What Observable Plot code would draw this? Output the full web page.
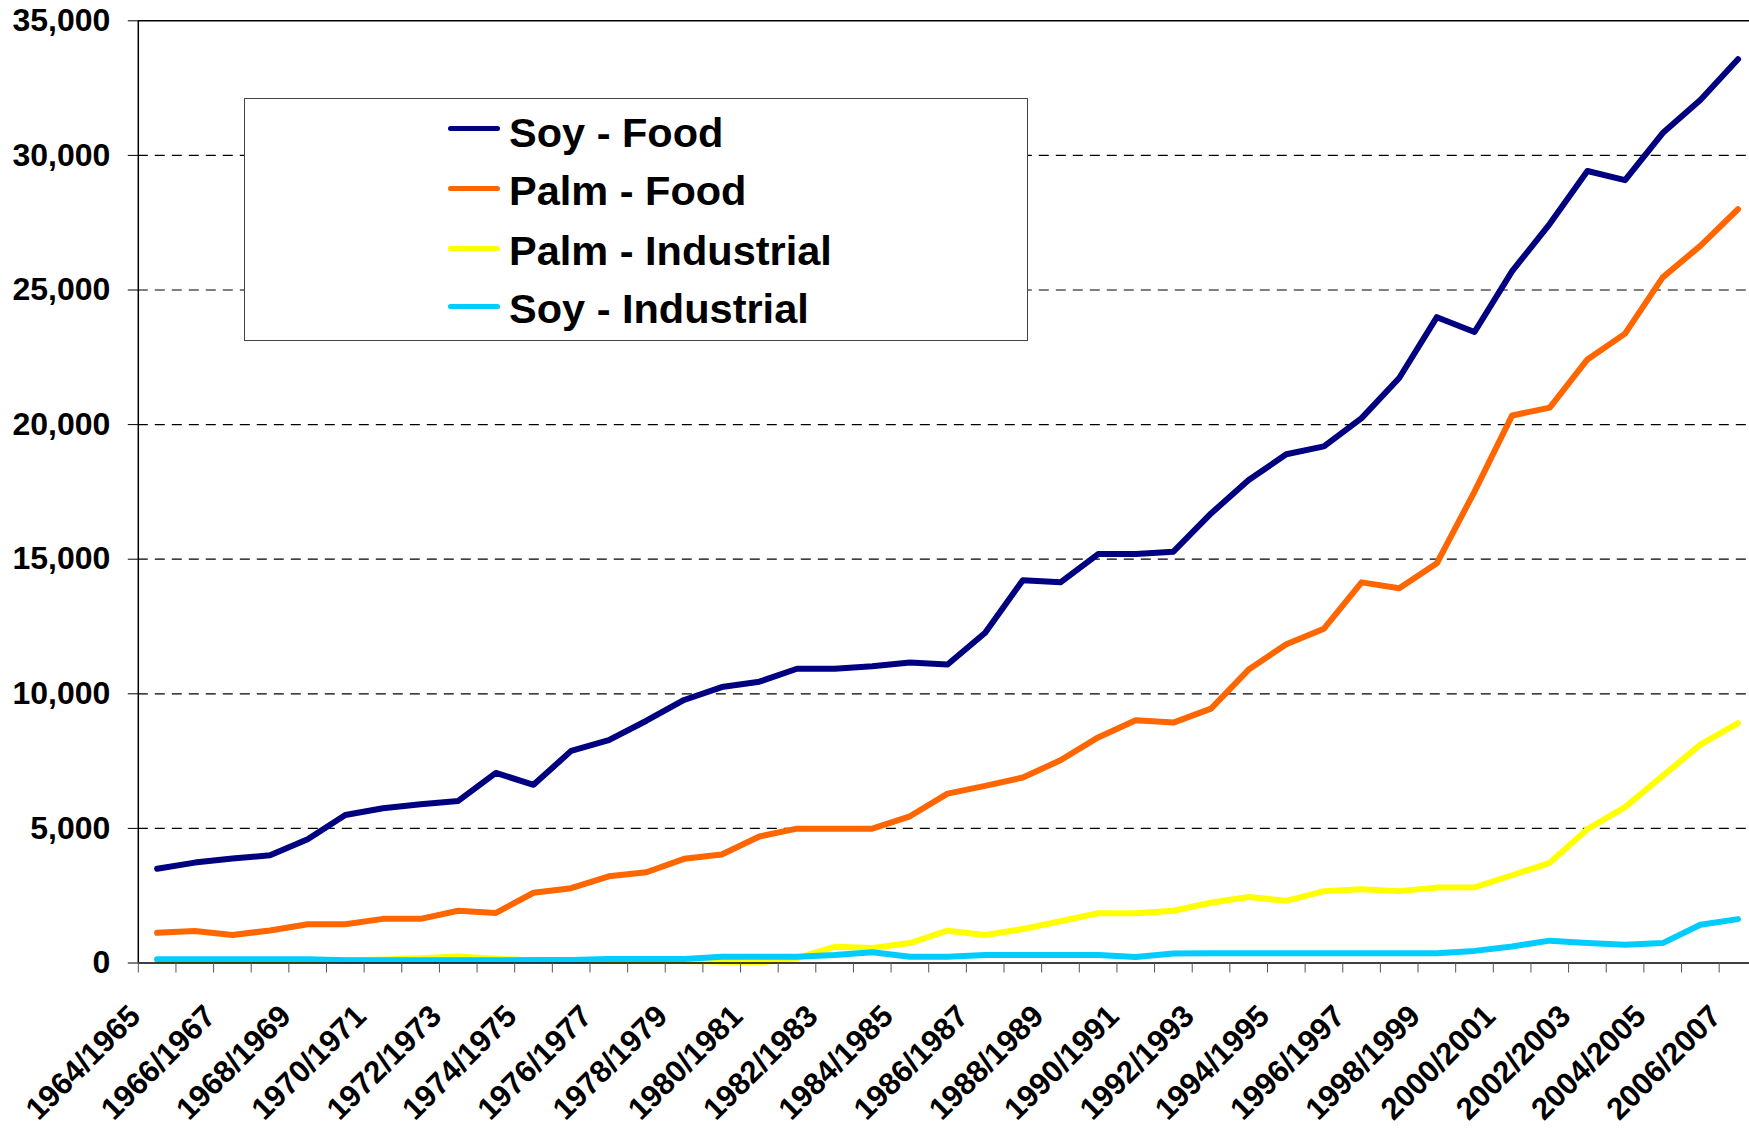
<!DOCTYPE html>
<html>
<head>
<meta charset="utf-8">
<script src="https://cdn.jsdelivr.net/npm/d3@7"></script>
<script src="https://cdn.jsdelivr.net/npm/@observablehq/plot@0.6"></script>
<style>
  html, body { margin: 0; padding: 0; background: #fff; overflow: hidden; }
  #wrap { position: relative; width: 1749px; height: 1128px; font-family: "Liberation Sans", Arial, sans-serif; }
  #legend { position: absolute; left: 244px; top: 98px; width: 782px; height: 241px; border: 1px solid #444; background: #fff; }
  .sw { position: absolute; left: 203px; width: 52px; height: 5px; border-radius: 2.5px; }
  .lab { position: absolute; left: 264px; font-size: 41.5px; font-weight: bold; line-height: 1; white-space: nowrap; color: #000; }
</style>
</head>
<body>
<div id="wrap"><div id="legend"></div></div>
<script>
const seasons = ["1964/1965","1965/1966","1966/1967","1967/1968","1968/1969","1969/1970","1970/1971","1971/1972","1972/1973","1973/1974","1974/1975","1975/1976","1976/1977","1977/1978","1978/1979","1979/1980","1980/1981","1981/1982","1982/1983","1983/1984","1984/1985","1985/1986","1986/1987","1987/1988","1988/1989","1989/1990","1990/1991","1991/1992","1992/1993","1993/1994","1994/1995","1995/1996","1996/1997","1997/1998","1998/1999","1999/2000","2000/2001","2001/2002","2002/2003","2003/2004","2004/2005","2005/2006","2006/2007"];

const soyFood = [3500,3730,3880,4000,4600,5500,5750,5900,6020,7060,6620,7880,8280,9000,9770,10250,10450,10930,10930,11020,11160,11090,12270,14220,14140,15190,15190,15280,16700,17940,18900,19190,20240,21730,23990,23440,25700,27460,29420,29080,30830,32060,33570];
const palmFood = [1120,1190,1040,1210,1440,1440,1640,1640,1940,1860,2610,2780,3220,3370,3870,4030,4700,4990,4990,4990,5450,6290,6580,6890,7530,8380,9020,8930,9450,10900,11840,12420,14140,13920,14850,17510,20340,20630,22420,23380,25470,26640,28000];
const palmIndustrial = [100,100,100,100,100,100,130,180,240,160,90,70,70,70,70,50,20,180,600,560,740,1200,1040,1260,1550,1850,1850,1940,2240,2450,2310,2670,2740,2670,2800,2810,3260,3720,4970,5790,6950,8110,8910];
const soyIndustrial = [140,140,140,140,140,100,100,100,100,100,110,115,150,150,150,230,230,235,300,400,230,230,300,300,300,300,220,355,360,360,360,360,360,360,360,450,615,830,740,680,740,1420,1630];

const seriesNames = ["Soy - Food","Palm - Food","Palm - Industrial","Soy - Industrial"];
const seriesColors = ["#000080","#FF6600","#FFFF00","#00CCFF"];
const seriesValues = [soyFood, palmFood, palmIndustrial, soyIndustrial];

const yTicks = [0,5000,10000,15000,20000,25000,30000,35000];
const gridValues = [5000,10000,15000,20000,25000,30000];

const rows = [];
seriesValues.forEach((vals, s) => vals.forEach((v, i) => rows.push({i, value: v, series: seriesNames[s]})));
const boundaries = seasons.map((d, i) => i - 0.5).concat([seasons.length - 0.5]);
const labelRows = seasons.map((label, i) => ({i, label})).filter(d => d.i % 2 === 0);

const font = '"Liberation Sans", Arial, sans-serif';

const chart = Plot.plot({
  width: 1749,
  height: 1128,
  marginLeft: 137.8,
  marginRight: -7.3,
  marginTop: 20.3,
  marginBottom: 165.5,
  x: {type: "linear", domain: [-0.5, seasons.length - 0.5], axis: null},
  y: {domain: [0, 35000], axis: null},
  color: {domain: seriesNames, range: seriesColors},
  style: {fontFamily: font, background: "#fff", overflow: "visible", maxWidth: "none"},
  marks: [
    Plot.ruleY(gridValues, {stroke: "#000", strokeWidth: 1.2, strokeDasharray: "10,7"}),
    Plot.ruleY([35000], {stroke: "#000", strokeWidth: 1.5}),
    Plot.line(rows, {x: "i", y: "value", z: "series", stroke: "series", strokeWidth: 6, strokeLinejoin: "round", strokeLinecap: "round"}),
    Plot.ruleY([0], {stroke: "#000", strokeWidth: 1.5}),
    Plot.ruleX([-0.5], {y1: 0, y2: 35000, stroke: "#000", strokeWidth: 1.5}),
    Plot.axisY({ticks: yTicks, tickSize: 10, tickPadding: 18, tickFormat: d3.format(","), fontSize: 32, fontWeight: "bold", label: null, fill: "#000", stroke: "#000"}),
    Plot.axisX({ticks: boundaries, tickSize: 10, tickFormat: () => "", label: null, stroke: "#555"}),
    Plot.text(labelRows, {x: "i", frameAnchor: "bottom", text: "label", rotate: -45, textAnchor: "end", lineAnchor: "bottom", dx: -15, dy: 55, fontSize: 31, fontWeight: "bold", fill: "#000"})
  ]
});
document.getElementById("wrap").prepend(chart);

// Legend overlay (inside plot area, like the original)
const legend = document.getElementById("legend");
const textTops = [12.6, 71.4, 130.9, 188.6];
const swTops = [27, 87, 147, 204.7];
seriesNames.forEach((name, k) => {
  const sw = document.createElement("div");
  sw.className = "sw";
  sw.style.top = swTops[k] + "px";
  sw.style.background = seriesColors[k];
  legend.appendChild(sw);
  const lab = document.createElement("div");
  lab.className = "lab";
  lab.style.top = textTops[k] + "px";
  lab.textContent = name;
  legend.appendChild(lab);
});
</script>
</body>
</html>
